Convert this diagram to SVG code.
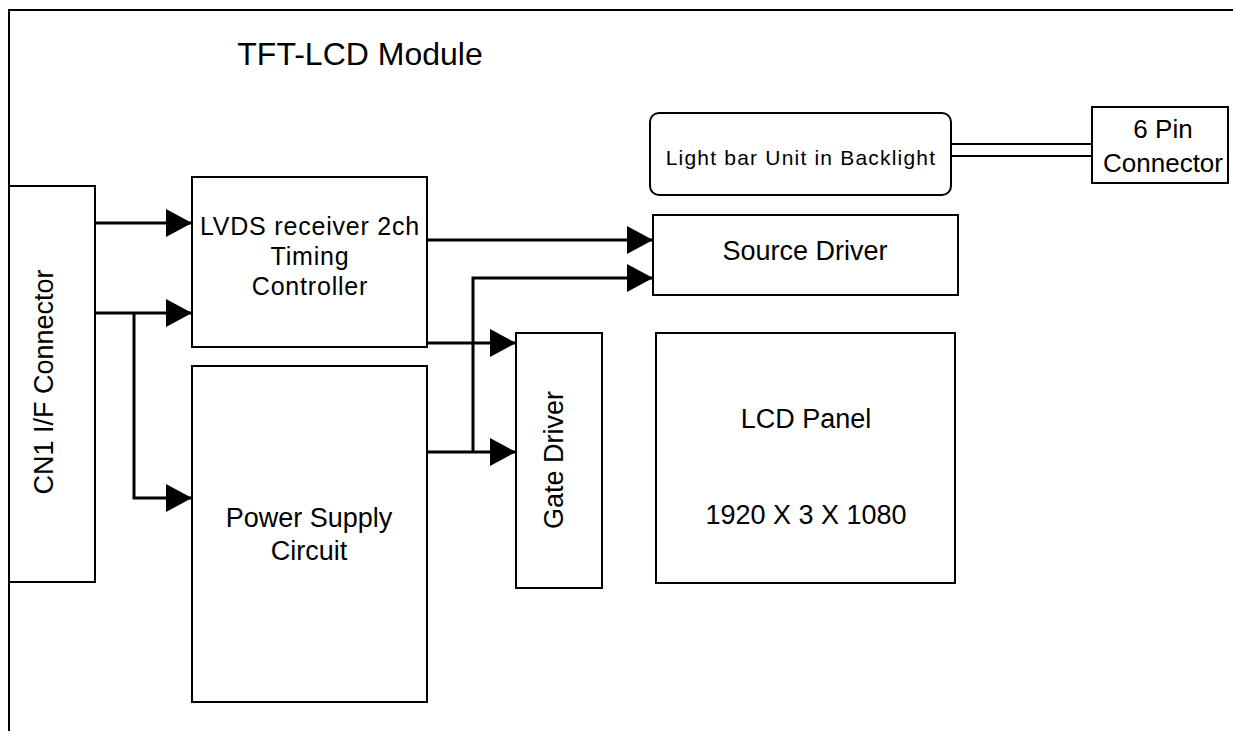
<svg xmlns="http://www.w3.org/2000/svg" width="1233" height="731" viewBox="0 0 1233 731">
<style>
.box{fill:#fff;stroke:#000;stroke-width:2}
.ln{fill:none;stroke:#000;stroke-width:3}
.t{font-family:"Liberation Sans",Arial,sans-serif;font-size:27px;fill:#000;text-anchor:middle}
</style>
<defs>
<marker id="ah" markerUnits="userSpaceOnUse" markerWidth="28" markerHeight="30" refX="26" refY="14" orient="auto">
<path d="M0,0 L26,14 L0,28 Z" fill="#000"/>
</marker>
</defs>
<rect width="1233" height="731" fill="#fff"/>
<g id="frame">
<path d="M9,731 V10 H1233" fill="none" stroke="#000" stroke-width="2"/>
<text class="t" x="360" y="65" style="font-size:32px">TFT-LCD Module</text>
</g>
<g id="cn1">
<rect class="box" x="9" y="186" width="86" height="396"/>
<text class="t" transform="translate(53,382) rotate(-90)">CN1 I/F Connector</text>
</g>
<g id="lvds">
<rect class="box" x="192" y="177" width="235" height="170"/>
<text class="t" x="310" y="235" style="font-size:25px;letter-spacing:0.8px">LVDS receiver 2ch</text>
<text class="t" x="310" y="265" style="font-size:25px;letter-spacing:0.8px">Timing</text>
<text class="t" x="310" y="295" style="font-size:25px;letter-spacing:0.8px">Controller</text>
</g>
<g id="power">
<rect class="box" x="192" y="366" width="235" height="336"/>
<text class="t" x="309" y="527">Power Supply</text>
<text class="t" x="309" y="560">Circuit</text>
</g>
<g id="source">
<rect class="box" x="653" y="215" width="305" height="80"/>
<text class="t" x="805" y="260">Source Driver</text>
</g>
<g id="gate">
<rect class="box" x="516" y="333" width="86" height="255"/>
<text class="t" transform="translate(563,460) rotate(-90)">Gate Driver</text>
</g>
<g id="panel">
<rect class="box" x="656" y="333" width="299" height="250"/>
<text class="t" x="806" y="428">LCD Panel</text>
<text class="t" x="806" y="524">1920 X 3 X 1080</text>
</g>
<g id="lightbar">
<rect class="box" x="650" y="113" width="301" height="82" rx="9"/>
<text class="t" x="801" y="165" style="font-size:21px;letter-spacing:1.2px">Light bar Unit in Backlight</text>
</g>
<g id="pin6">
<rect class="box" x="1092" y="107" width="136" height="76"/>
<text class="t" x="1163" y="138" style="font-size:26px">6 Pin</text>
<text class="t" x="1163" y="172" style="font-size:26px">Connector</text>
</g>
<g id="connectors">
<path class="ln" d="M95,223 H192" marker-end="url(#ah)"/>
<path class="ln" d="M95,313 H192" marker-end="url(#ah)"/>
<path class="ln" d="M134,313 V498 H192" marker-end="url(#ah)"/>
<path class="ln" d="M427,240 H653" marker-end="url(#ah)"/>
<path class="ln" d="M473,452 V278 H653" marker-end="url(#ah)"/>
<path class="ln" d="M427,343 H516" marker-end="url(#ah)"/>
<path class="ln" d="M427,452 H516" marker-end="url(#ah)"/>
<path d="M951,144 H1092 M951,156 H1092" fill="none" stroke="#000" stroke-width="2"/>
</g>
</svg>
